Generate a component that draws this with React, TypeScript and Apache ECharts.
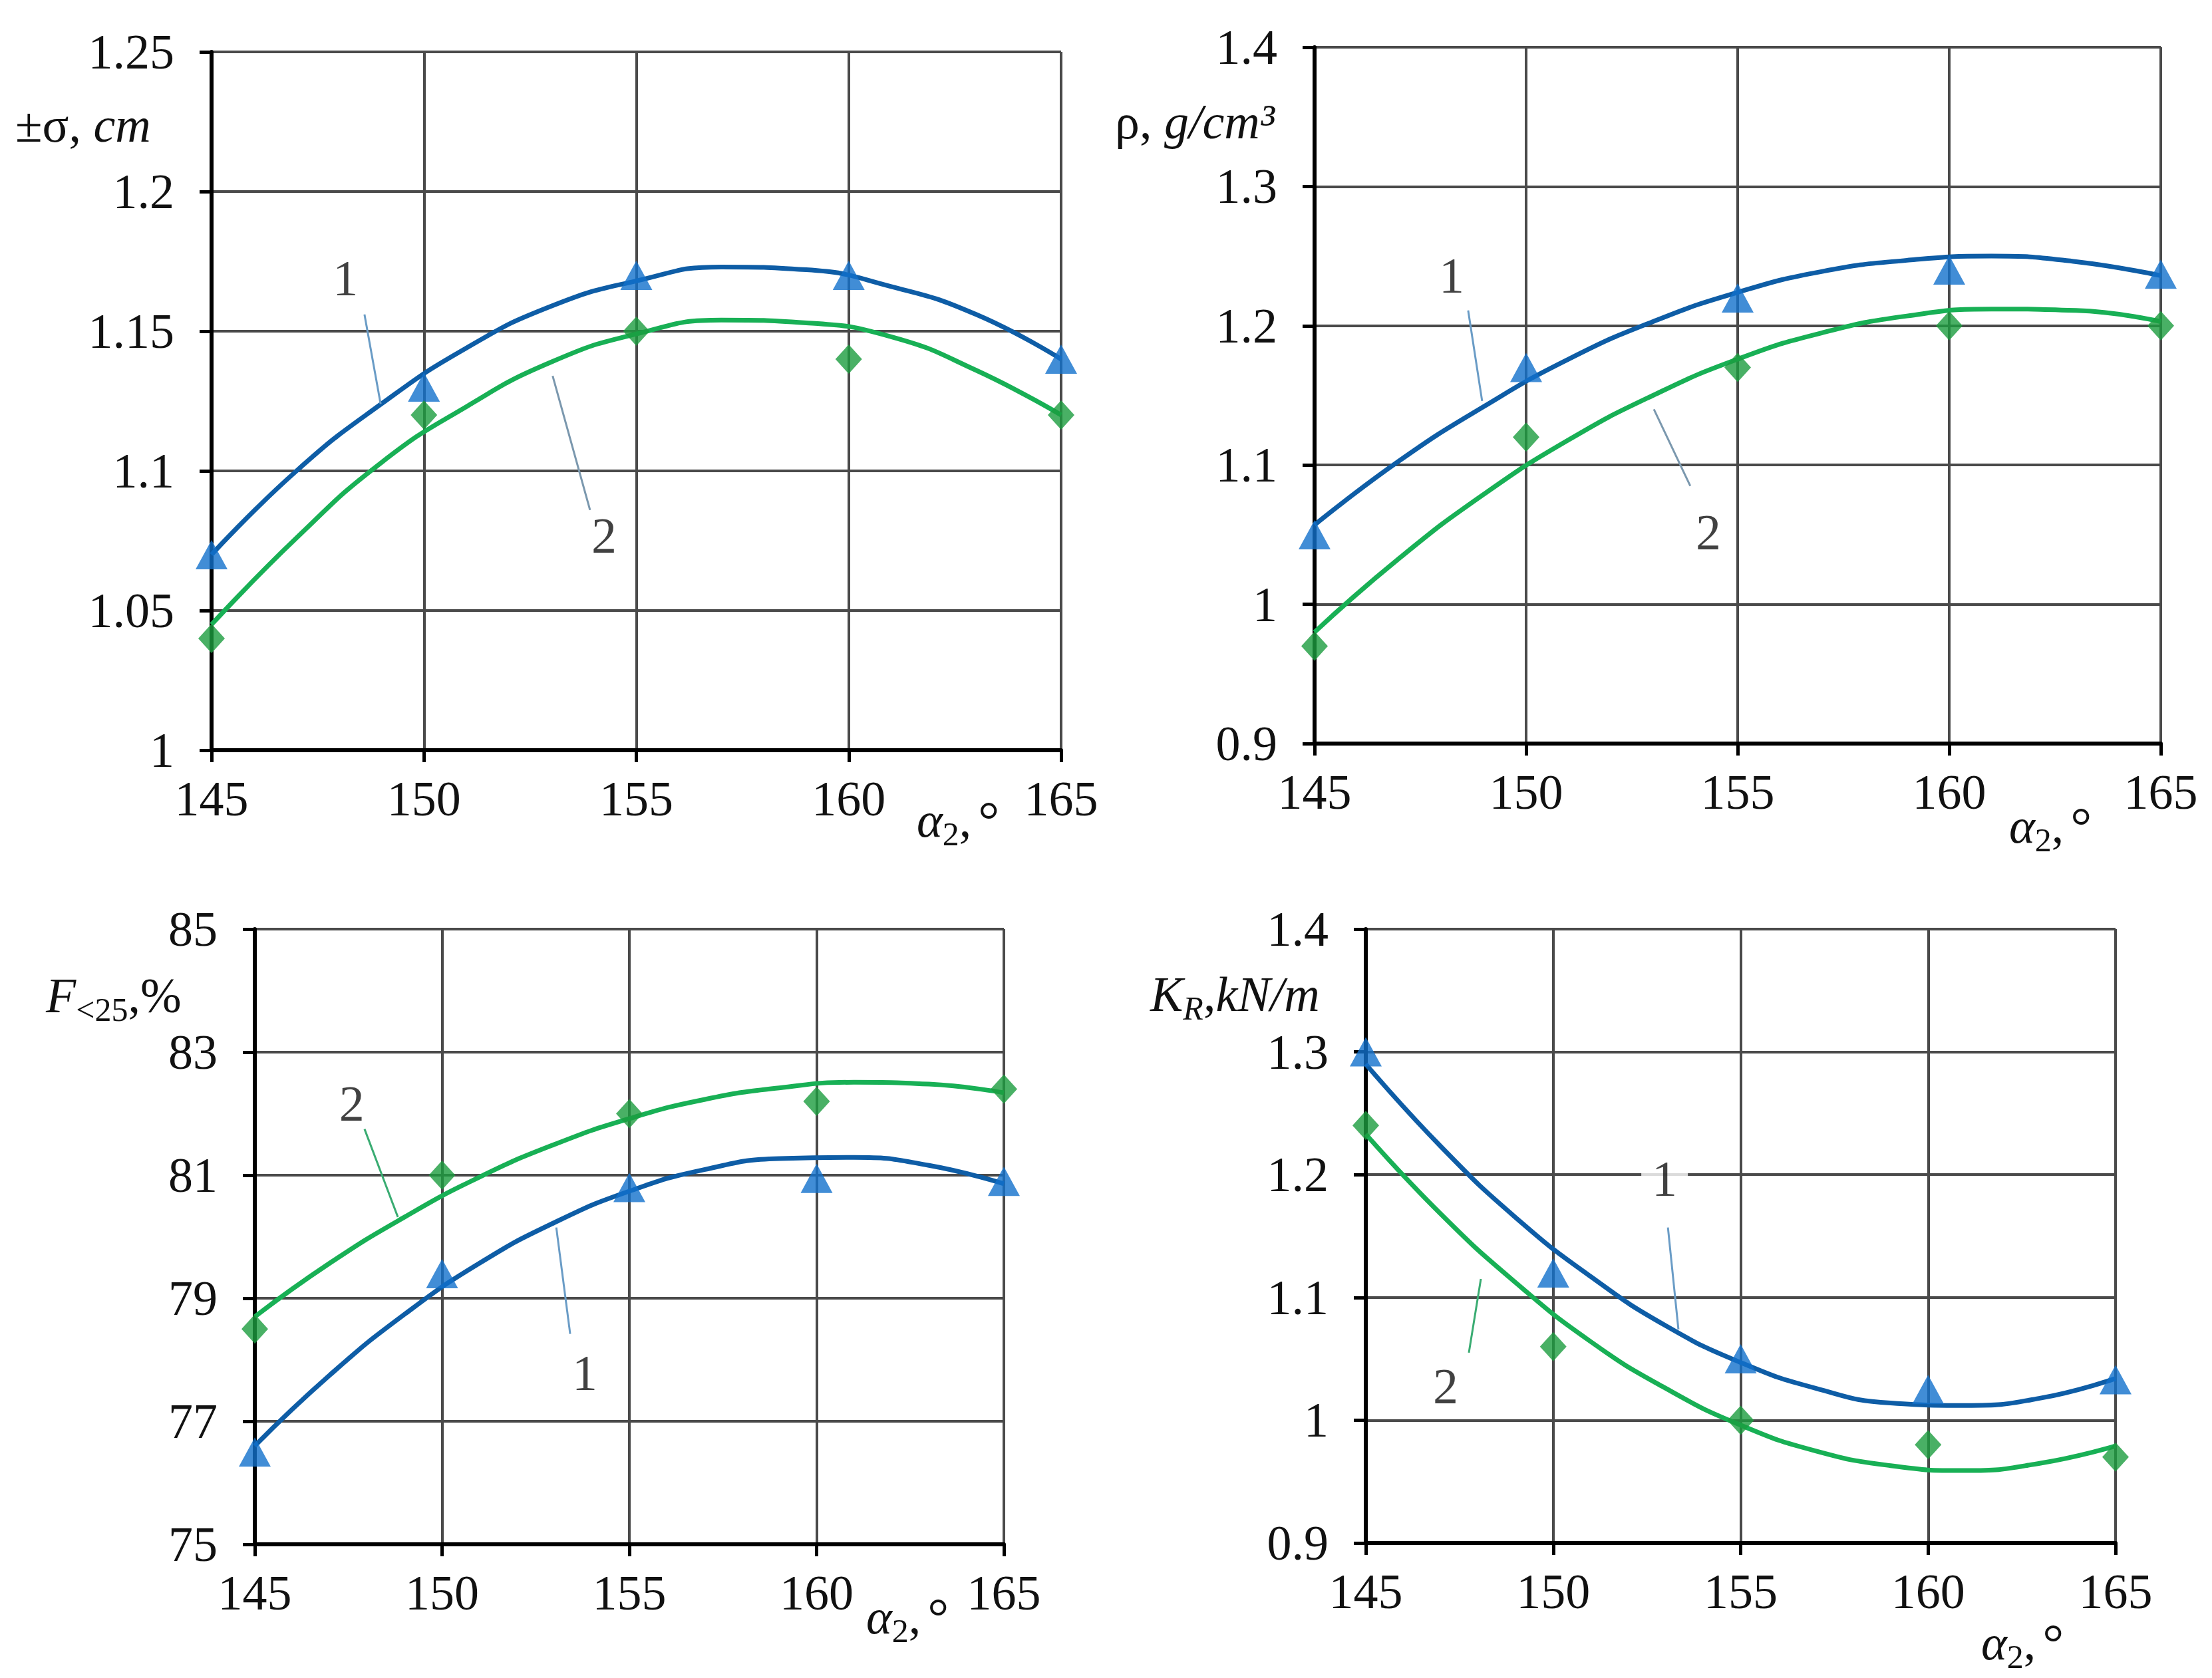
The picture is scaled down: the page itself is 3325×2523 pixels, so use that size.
import React, { useEffect, useRef } from "react";
import * as echarts from "echarts";

// ---------- data ----------
const ALPHA = [145, 150, 155, 160, 165];
const ALPHA_FIT = [145, 147, 149, 151, 153, 155, 157, 159, 161, 163, 165];

const SIGMA_1 = [1.07, 1.13, 1.17, 1.17, 1.14];
const SIGMA_2 = [1.04, 1.12, 1.15, 1.14, 1.12];
const SIGMA_FIT_1 = [1.07, 1.1, 1.124, 1.144, 1.159, 1.168, 1.173, 1.172, 1.166, 1.156, 1.14];
const SIGMA_FIT_2 = [1.045, 1.076, 1.103, 1.123, 1.139, 1.149, 1.154, 1.153, 1.148, 1.136, 1.12];

const RHO_1 = [1.05, 1.17, 1.22, 1.24, 1.237];
const RHO_2 = [0.97, 1.12, 1.17, 1.2, 1.2];
const RHO_FIT_1 = [1.057, 1.103, 1.142, 1.176, 1.203, 1.224, 1.239, 1.247, 1.25, 1.246, 1.236];
const RHO_FIT_2 = [0.98, 1.033, 1.079, 1.118, 1.15, 1.176, 1.195, 1.207, 1.212, 1.211, 1.203];

const F_1 = [76.5, 79.4, 80.8, 80.95, 80.9];
const F_2 = [78.5, 81.0, 82.0, 82.2, 82.4];
const F_FIT_1 = [76.6, 77.75, 78.74, 79.57, 80.23, 80.74, 81.09, 81.27, 81.29, 81.16, 80.86];
const F_FIT_2 = [78.7, 79.57, 80.32, 80.97, 81.5, 81.92, 82.23, 82.42, 82.51, 82.48, 82.34];

const KR_1 = [1.3, 1.12, 1.05, 1.025, 1.033];
const KR_2 = [1.24, 1.06, 1.0, 0.98, 0.97];
const KR_FIT_1 = [1.29, 1.223, 1.165, 1.117, 1.077, 1.047, 1.026, 1.014, 1.012, 1.018, 1.034];
const KR_FIT_2 = [1.233, 1.168, 1.112, 1.064, 1.026, 0.996, 0.975, 0.963, 0.959, 0.965, 0.979];

// y axis ranges [min, max, interval]
const Y_SIGMA = [1, 1.25, 0.05];
const Y_RHO = [0.9, 1.4, 0.1];
const Y_F = [75, 85, 2];
const Y_KR = [0.9, 1.4, 0.1];

// curve-number annotations (data coordinates): label point, leader start, leader end
const ANN_SIGMA_1 = [[148.15, 1.169], [148.6, 1.156], [148.98, 1.124]];
const ANN_SIGMA_2 = [[154.24, 1.077], [153.03, 1.134], [153.91, 1.086]];
const ANN_RHO_1 = [[148.24, 1.236], [148.63, 1.211], [148.96, 1.146]];
const ANN_RHO_2 = [[154.31, 1.052], [153.02, 1.14], [153.88, 1.085]];
const ANN_F_1 = [[153.81, 77.79], [153.05, 80.15], [153.42, 78.42]];
const ANN_F_2 = [[147.59, 82.17], [147.93, 81.75], [148.82, 80.32]];
const ANN_KR_1 = [[152.97, 1.197], [153.06, 1.157], [153.34, 1.074]];
const ANN_KR_2 = [[147.13, 1.028], [148.07, 1.115], [147.75, 1.055]];

// ---------- styles ----------
const FONT = "Liberation Serif";
const BLUE_LINE = "#0e5da6";
const BLUE_MARK = "#1270cc";
const GREEN_LINE = "#18b055";
const GREEN_MARK = "#1c9c3e";
const LEAD_BLUE = "#6a9cc6";
const LEAD_GRAY = "#7b98ae";
const LEAD_GREEN = "#3aac72";
const TEXT = "#111";

const GRIDS = [
  { left: 318, top: 78, width: 1277, height: 1050 },
  { left: 1976, top: 71, width: 1272, height: 1047 },
  { left: 383, top: 1397, width: 1126, height: 925 },
  { left: 2053, top: 1397, width: 1127, height: 923 },
];

const pairs = (xs: number[], ys: number[]) => xs.map((x, i) => [x, ys[i]]);

function xAxis(g: number) {
  return {
    type: "value",
    gridIndex: g,
    min: 145,
    max: 165,
    interval: 5,
    axisLine: { show: true, onZero: false, lineStyle: { color: "#000", width: 6 } },
    axisTick: { show: true, length: 18, lineStyle: { color: "#000", width: 5 } },
    axisLabel: { fontFamily: FONT, fontSize: 74, color: TEXT, margin: 36 },
    splitLine: { show: true, lineStyle: { color: "#4a4a4a", width: 4 } },
  };
}

function yAxis(g: number, r: number[]) {
  return {
    type: "value",
    gridIndex: g,
    min: r[0],
    max: r[1],
    interval: r[2],
    axisLine: { show: true, onZero: false, lineStyle: { color: "#000", width: 6 } },
    axisTick: { show: true, length: 18, lineStyle: { color: "#000", width: 5 } },
    axisLabel: { fontFamily: FONT, fontSize: 74, color: TEXT, margin: 56 },
    splitLine: { show: true, lineStyle: { color: "#4a4a4a", width: 4 } },
  };
}

function panelSeries(
  g: number,
  m1: number[],
  m2: number[],
  fit1: number[],
  fit2: number[],
  ann1: number[][],
  ann2: number[][],
  lead2Color: string,
  label1Bg: boolean
) {
  const base = { xAxisIndex: g, yAxisIndex: g, silent: true };
  const leader = (a: number[][], color: string) => ({
    ...base,
    type: "line",
    data: [a[1], a[2]],
    showSymbol: false,
    symbol: "none",
    lineStyle: { color, width: 3 },
    z: 4,
  });
  const label = (a: number[][], txt: string, bg: boolean) => ({
    ...base,
    type: "scatter",
    data: [a[0]],
    symbolSize: 1,
    itemStyle: { color: "rgba(0,0,0,0)" },
    label: {
      show: true,
      position: "inside",
      formatter: txt,
      fontFamily: FONT,
      fontSize: 76,
      color: TEXT,
      backgroundColor: bg ? "#fff" : "transparent",
      padding: bg ? [0, 16] : 0,
    },
    z: 6,
  });
  return [
    {
      ...base,
      type: "line",
      data: pairs(ALPHA_FIT, fit1),
      smooth: true,
      showSymbol: false,
      symbol: "none",
      lineStyle: { color: BLUE_LINE, width: 7 },
      z: 3,
    },
    {
      ...base,
      type: "line",
      data: pairs(ALPHA_FIT, fit2),
      smooth: true,
      showSymbol: false,
      symbol: "none",
      lineStyle: { color: GREEN_LINE, width: 7 },
      z: 3,
    },
    {
      ...base,
      type: "scatter",
      data: pairs(ALPHA, m1),
      symbol: "triangle",
      symbolSize: [48, 44],
      itemStyle: { color: BLUE_MARK },
      z: 5,
    },
    {
      ...base,
      type: "scatter",
      data: pairs(ALPHA, m2),
      symbol: "diamond",
      symbolSize: [40, 44],
      itemStyle: { color: GREEN_MARK },
      z: 5,
    },
    leader(ann1, LEAD_BLUE),
    leader(ann2, lead2Color),
    label(ann1, "1", label1Bg),
    label(ann2, "2", false),
  ];
}

const MAIN = { fill: TEXT, fontFamily: FONT, fontSize: 74, lineHeight: 92 };
const MAIN_I = { ...MAIN, fontStyle: "italic" };
const SUB = { fill: TEXT, fontFamily: FONT, fontSize: 50, lineHeight: 50, verticalAlign: "bottom" };
const SUB_I = { ...SUB, fontStyle: "italic" };
const DEG = { fill: TEXT, fontFamily: FONT, fontSize: 80, lineHeight: 92, padding: [0, 0, 0, 10] };

function nameText(x: number, y: number, text: string) {
  return {
    type: "text",
    x,
    y,
    silent: true,
    style: {
      text,
      align: "left",
      verticalAlign: "middle",
      textAlign: "left",
      textVerticalAlign: "middle",
      fill: TEXT,
      fontFamily: FONT,
      fontSize: 74,
      rich: { r: MAIN, i: MAIN_I, s: SUB, si: SUB_I, o: DEG },
    },
  };
}

const X_NAME = "{i|α}{s|2}{r|,}{o|°}";

export default function App() {
  const ref = useRef<HTMLDivElement>(null);
  useEffect(() => {
    if (!ref.current) return;
    const chart = echarts.init(ref.current, undefined, { renderer: "svg" });
    chart.setOption({
      animation: false,
      backgroundColor: "#fff",
      textStyle: { fontFamily: FONT },
      grid: GRIDS.map((g) => ({ ...g, containLabel: false })),
      xAxis: [0, 1, 2, 3].map(xAxis),
      yAxis: [yAxis(0, Y_SIGMA), yAxis(1, Y_RHO), yAxis(2, Y_F), yAxis(3, Y_KR)],
      series: [
        ...panelSeries(0, SIGMA_1, SIGMA_2, SIGMA_FIT_1, SIGMA_FIT_2, ANN_SIGMA_1, ANN_SIGMA_2, LEAD_GRAY, false),
        ...panelSeries(1, RHO_1, RHO_2, RHO_FIT_1, RHO_FIT_2, ANN_RHO_1, ANN_RHO_2, LEAD_GRAY, false),
        ...panelSeries(2, F_1, F_2, F_FIT_1, F_FIT_2, ANN_F_1, ANN_F_2, LEAD_GREEN, false),
        ...panelSeries(3, KR_1, KR_2, KR_FIT_1, KR_FIT_2, ANN_KR_1, ANN_KR_2, LEAD_GREEN, true),
      ],
      graphic: [
        nameText(23, 188, "{r|±σ, }{i|cm}"),
        nameText(1676, 183, "{r|ρ, }{i|g/cm³}"),
        nameText(69, 1497, "{i|F}{s|<25}{r|,%}"),
        nameText(1729, 1495, "{i|K}{si|R}{r|,}{i|kN/m}"),
        nameText(1378, 1233, X_NAME),
        nameText(3020, 1242, X_NAME),
        nameText(1302, 2431, X_NAME),
        nameText(2978, 2470, X_NAME),
      ],
    });
    return () => chart.dispose();
  }, []);
  return (
    <div
      ref={ref}
      style={{ position: "fixed", left: 0, top: 0, width: 3325, height: 2523, background: "#fff" }}
    />
  );
}
